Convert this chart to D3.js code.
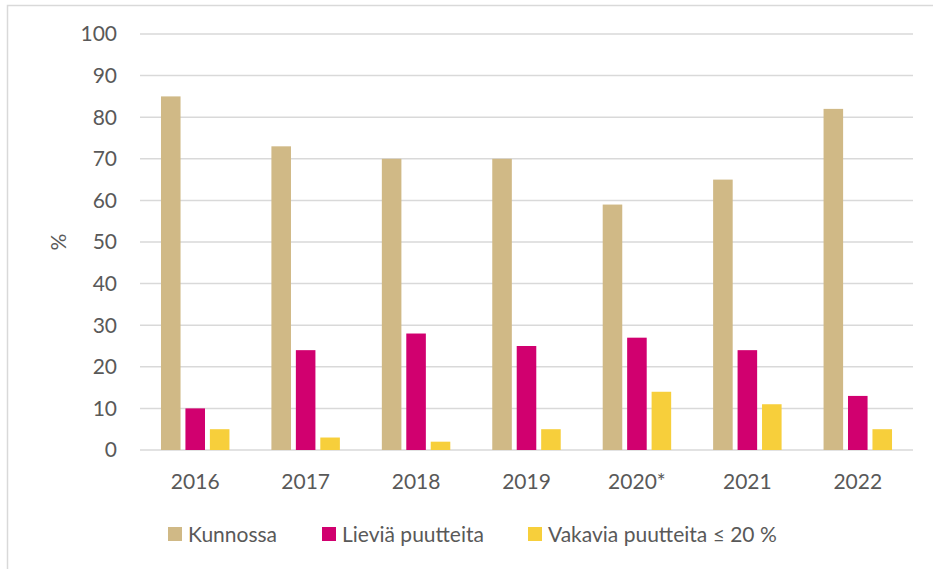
<!DOCTYPE html>
<html>
<head>
<meta charset="utf-8">
<style>
  body { margin: 0; background: #fff; }
  text { font-family: Lato, "Open Sans", sans-serif; fill: #595959; }
</style>
</head>
<body>
<svg width="933" height="569"></svg>
<script src="https://d3js.org/d3.v7.min.js"></script>
<script>
// data
const years = ["2016", "2017", "2018", "2019", "2020*", "2021", "2022"];
const seriesNames = ["Kunnossa", "Lieviä puutteita", "Vakavia puutteita ≤ 20 %"];
const kunnossa = [85, 73, 70, 70, 59, 65, 82];
const lievia = [10, 24, 28, 25, 27, 24, 13];
const vakavia = [5, 3, 2, 5, 14, 11, 5];
const yTicks = [0, 10, 20, 30, 40, 50, 60, 70, 80, 90, 100];
const colors = ["#D0B986", "#D1006F", "#F7CF3B"];

const svg = d3.select("svg"),
    width = +svg.attr("width"),
    height = +svg.attr("height");

// outer frame
svg.append("rect")
    .attr("x", 7.5).attr("y", 5.5)
    .attr("width", 940).attr("height", 600)
    .attr("fill", "none").attr("stroke", "#d9d9d9").attr("stroke-width", 1.5);

const plotLeft = 140, plotRight = 913, plotTop = 34, plotBottom = 450;
const fs = "21px";

const x0 = d3.scaleBand().domain(years).range([plotLeft, plotRight])
    .paddingInner(0.38).paddingOuter(0.19);
const x1 = d3.scaleBand().domain(d3.range(3)).range([0, x0.bandwidth()])
    .paddingInner(0.2).paddingOuter(0);
const y = d3.scaleLinear().domain([0, 100]).range([plotBottom, plotTop]);

// gridlines
svg.append("g").selectAll("line")
    .data(yTicks)
    .join("line")
    .attr("x1", plotLeft).attr("x2", plotRight)
    .attr("y1", d => y(d)).attr("y2", d => y(d))
    .attr("stroke", "#d9d9d9").attr("stroke-width", 1.5);

// y labels
svg.append("g").selectAll("text")
    .data(yTicks)
    .join("text")
    .attr("x", 117)
    .attr("y", d => y(d))
    .attr("dy", "0.35em")
    .attr("text-anchor", "end")
    .style("font-size", fs)
    .text(d => d);

svg.append("text")
    .attr("transform", "translate(66," + ((plotTop + plotBottom) / 2) + ") rotate(-90)")
    .attr("text-anchor", "middle")
    .style("font-size", fs)
    .text("%");

// bars
const rows = years.map((yr, i) => ({year: yr, vals: [kunnossa[i], lievia[i], vakavia[i]]}));
const groups = svg.append("g").selectAll("g")
    .data(rows)
    .join("g")
    .attr("transform", d => "translate(" + x0(d.year) + ",0)");

groups.selectAll("rect")
    .data(d => d.vals.map((v, k) => ({k: k, v: v})))
    .join("rect")
    .attr("x", d => x1(d.k))
    .attr("width", x1.bandwidth())
    .attr("y", d => y(d.v))
    .attr("height", d => y(0) - y(d.v))
    .attr("fill", d => colors[d.k]);

// x labels
svg.append("g").selectAll("text")
    .data(years)
    .join("text")
    .attr("x", d => x0(d) + x0.bandwidth() / 2)
    .attr("y", 489)
    .attr("text-anchor", "middle")
    .style("font-size", fs)
    .text(d => d);

// legend
const legendX = [168, 322, 528];
const leg = svg.append("g").selectAll("g")
    .data(seriesNames)
    .join("g")
    .attr("transform", (d, i) => "translate(" + legendX[i] + ",527)");
leg.append("rect")
    .attr("width", 14).attr("height", 14)
    .attr("fill", (d, i) => colors[i]);
leg.append("text")
    .attr("x", 20).attr("y", 15)
    .style("font-size", fs)
    .text(d => d);
</script>
</body>
</html>
